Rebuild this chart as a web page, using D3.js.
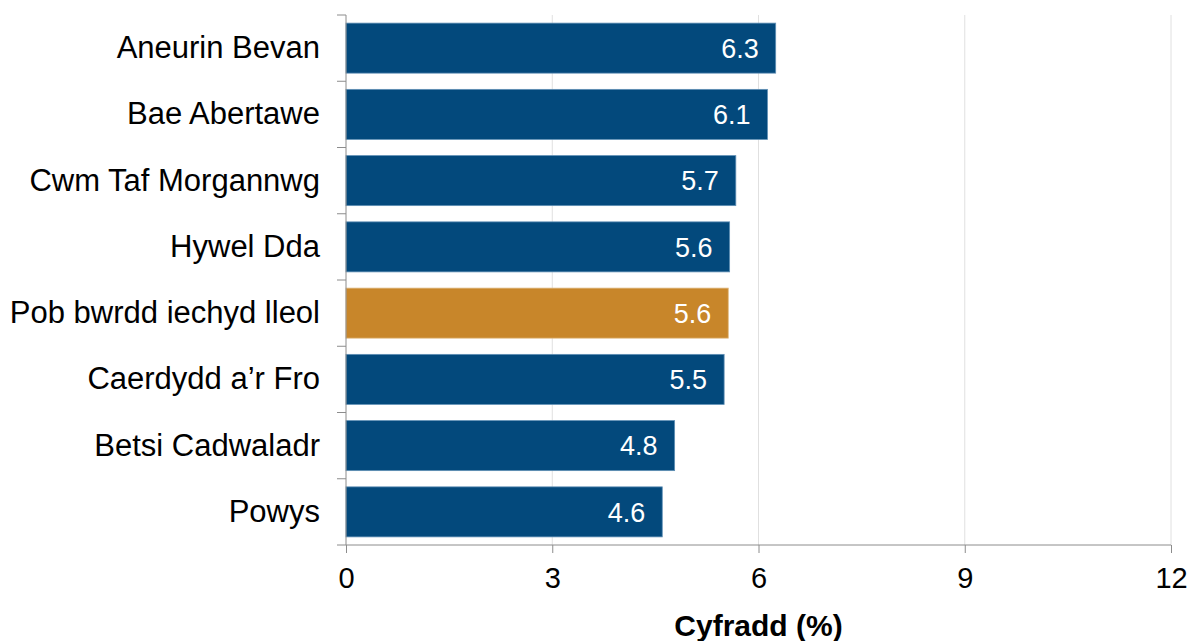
<!DOCTYPE html>
<html>
<head>
<meta charset="utf-8">
<script src="https://cdn.jsdelivr.net/npm/d3@7"></script>
<style>
  body { margin: 0; background: #fff; }
  text { font-family: "Liberation Sans", Arial, sans-serif; }
</style>
</head>
<body>
<div id="chart"></div>
<script>
// chart data
var categories = ["Aneurin Bevan", "Bae Abertawe", "Cwm Taf Morgannwg", "Hywel Dda",
  "Pob bwrdd iechyd lleol", "Caerdydd a\u2019r Fro", "Betsi Cadwaladr", "Powys"];
var values = [6.25, 6.13, 5.67, 5.58, 5.56, 5.5, 4.78, 4.6];
var valueLabels = ["6.3", "6.1", "5.7", "5.6", "5.6", "5.5", "4.8", "4.6"];
var highlight = "Pob bwrdd iechyd lleol";
var xTicks = [0, 3, 6, 9, 12];

var width = 1190,
    height = 641,
    margin = { top: 15, right: 19, bottom: 96, left: 346 };

var svg = d3.select("#chart").append("svg")
    .attr("width", width)
    .attr("height", height);

var x = d3.scaleLinear().domain([0, 12]).range([margin.left, width - margin.right]);
var y = d3.scaleBand().domain(categories)
    .range([margin.top, height - margin.bottom])
    .paddingInner(0.245).paddingOuter(0.1225);

// gridlines
svg.append("g").selectAll("line")
    .data(xTicks.slice(1))
    .enter().append("line")
    .attr("x1", function(d) { return x(d); })
    .attr("x2", function(d) { return x(d); })
    .attr("y1", margin.top)
    .attr("y2", height - margin.bottom)
    .attr("stroke", "#e0e0e0")
    .attr("stroke-width", 1);

// bars
svg.append("g").selectAll("rect")
    .data(values)
    .enter().append("rect")
    .attr("x", x(0))
    .attr("y", function(d, i) { return y(categories[i]); })
    .attr("width", function(d) { return x(d) - x(0); })
    .attr("height", y.bandwidth())
    .attr("fill", function(d, i) { return categories[i] === highlight ? "#C8862A" : "#03497C"; })
    .attr("stroke", function(d, i) { return categories[i] === highlight ? "#dfb77e" : "#5f8fb5"; })
    .attr("stroke-width", 0.8);

// value labels
svg.append("g").selectAll("text")
    .data(values)
    .enter().append("text")
    .attr("x", function(d) { return x(d) - 17; })
    .attr("y", function(d, i) { return y(categories[i]) + y.bandwidth() / 2; })
    .attr("dy", "0.36em")
    .attr("text-anchor", "end")
    .attr("fill", "#fff")
    .style("font-size", "27px")
    .text(function(d, i) { return valueLabels[i]; });

// x axis
var xAxis = svg.append("g")
    .attr("transform", "translate(0," + (height - margin.bottom) + ")")
    .call(d3.axisBottom(x).tickValues(xTicks).tickSize(8).tickPadding(14));
xAxis.select(".domain").attr("stroke", "#8c8c8c").attr("d", "M" + (margin.left - 9) + ",0H" + x(12));
xAxis.selectAll(".tick line").attr("stroke", "#8c8c8c");
xAxis.selectAll(".tick text").style("font-size", "29px").attr("fill", "#000");

// y axis
var yAxis = svg.append("g")
    .attr("transform", "translate(" + margin.left + ",0)")
    .call(d3.axisLeft(y).tickSize(0).tickPadding(26));
yAxis.select(".domain").attr("stroke", "#8c8c8c").attr("d", "M0," + margin.top + "V" + (height - margin.bottom));
yAxis.selectAll(".tick text").style("font-size", "31px").attr("fill", "#000");

// separator ticks between categories
var step = y.step();
var sepY = d3.range(categories.length).map(function(i) { return margin.top + i * step; });
svg.append("g").selectAll("line")
    .data(sepY)
    .enter().append("line")
    .attr("x1", margin.left - 9)
    .attr("x2", margin.left)
    .attr("y1", function(d) { return d; })
    .attr("y2", function(d) { return d; })
    .attr("stroke", "#8c8c8c");

// axis title
svg.append("text")
    .attr("x", x(6))
    .attr("y", 636)
    .attr("text-anchor", "middle")
    .style("font-size", "30px")
    .style("font-weight", "bold")
    .text("Cyfradd (%)");
</script>
</body>
</html>
